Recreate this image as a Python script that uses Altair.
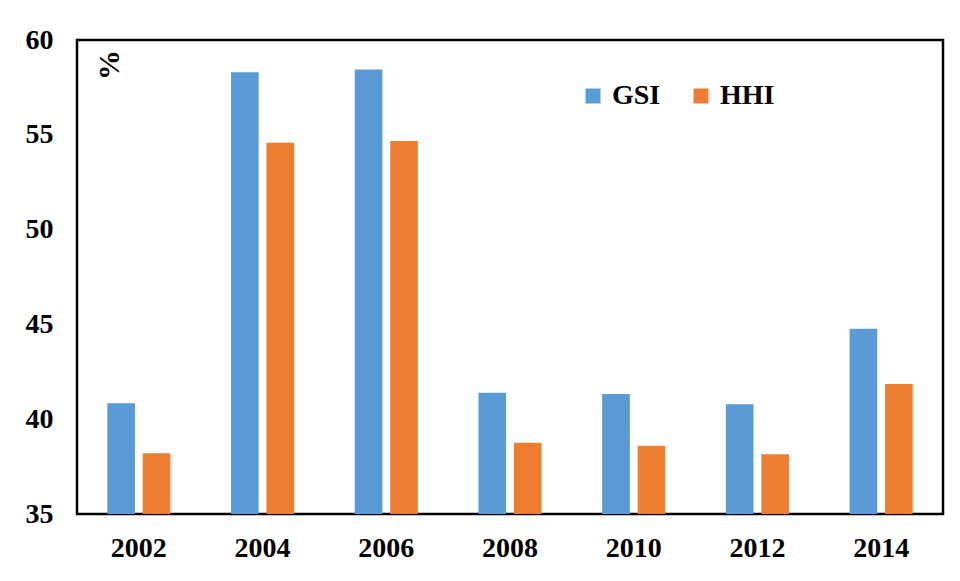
import altair as alt
import pandas as pd

years = ["2002", "2004", "2006", "2008", "2010", "2012", "2014"]
gsi = [40.84, 58.3, 58.45, 41.4, 41.33, 40.79, 44.77]
hhi = [38.2, 54.58, 54.67, 38.76, 38.6, 38.15, 41.86]
series = ["GSI", "HHI"]
colors = ["#5B9BD5", "#ED7D31"]
y_ticks = [35, 40, 45, 50, 55, 60]

rows = []
for i, y in enumerate(years):
    rows.append({"year": y, "series": "GSI", "value": gsi[i]})
    rows.append({"year": y, "series": "HHI", "value": hhi[i]})
df = pd.DataFrame(rows)

FONT = "Liberation Serif"

bars = alt.Chart(df).mark_bar(clip=True).encode(
    x=alt.X("year:N", sort=years,
            scale=alt.Scale(paddingInner=0.49, paddingOuter=0.245),
            axis=alt.Axis(title=None, labelAngle=0, domain=False, ticks=False,
                          labelFont=FONT, labelFontSize=28, labelFontWeight="bold",
                          labelColor="black", labelPadding=20)),
    xOffset=alt.XOffset("series:N", sort=series,
                        scale=alt.Scale(paddingInner=0.22, paddingOuter=0)),
    y=alt.Y("value:Q",
            scale=alt.Scale(domain=[35, 60], nice=False, zero=False),
            axis=alt.Axis(title=None, values=y_ticks, domain=False, ticks=False, grid=False,
                          labelFont=FONT, labelFontSize=28, labelFontWeight="bold",
                          labelColor="black", labelPadding=24)),
    color=alt.Color("series:N", sort=series,
                    scale=alt.Scale(domain=series, range=colors),
                    legend=alt.Legend(title=None, orient="none", direction="horizontal",
                                      legendX=502, legendY=42,
                                      symbolType="square", symbolSize=225,
                                      symbolStrokeWidth=0,
                                      labelFont=FONT, labelFontSize=28,
                                      labelFontWeight="bold", labelColor="black",
                                      columnPadding=26, labelOffset=5)),
)

pct = alt.Chart(pd.DataFrame({"t": ["%"]})).mark_text(
    angle=270, font=FONT, fontSize=30, fontWeight="bold", color="black",
    align="center", baseline="middle"
).encode(text="t:N", x=alt.value(33), y=alt.value(25))

chart = alt.layer(bars, pct).properties(
    width=866, height=474,
    autosize=alt.AutoSizeParams(type="none"),
    padding={"left": 69, "top": 32, "right": 5, "bottom": 55},
).configure_view(stroke="black", strokeWidth=2.5)

chart.save("out.html", embed_options={"renderer": "svg", "actions": False})
